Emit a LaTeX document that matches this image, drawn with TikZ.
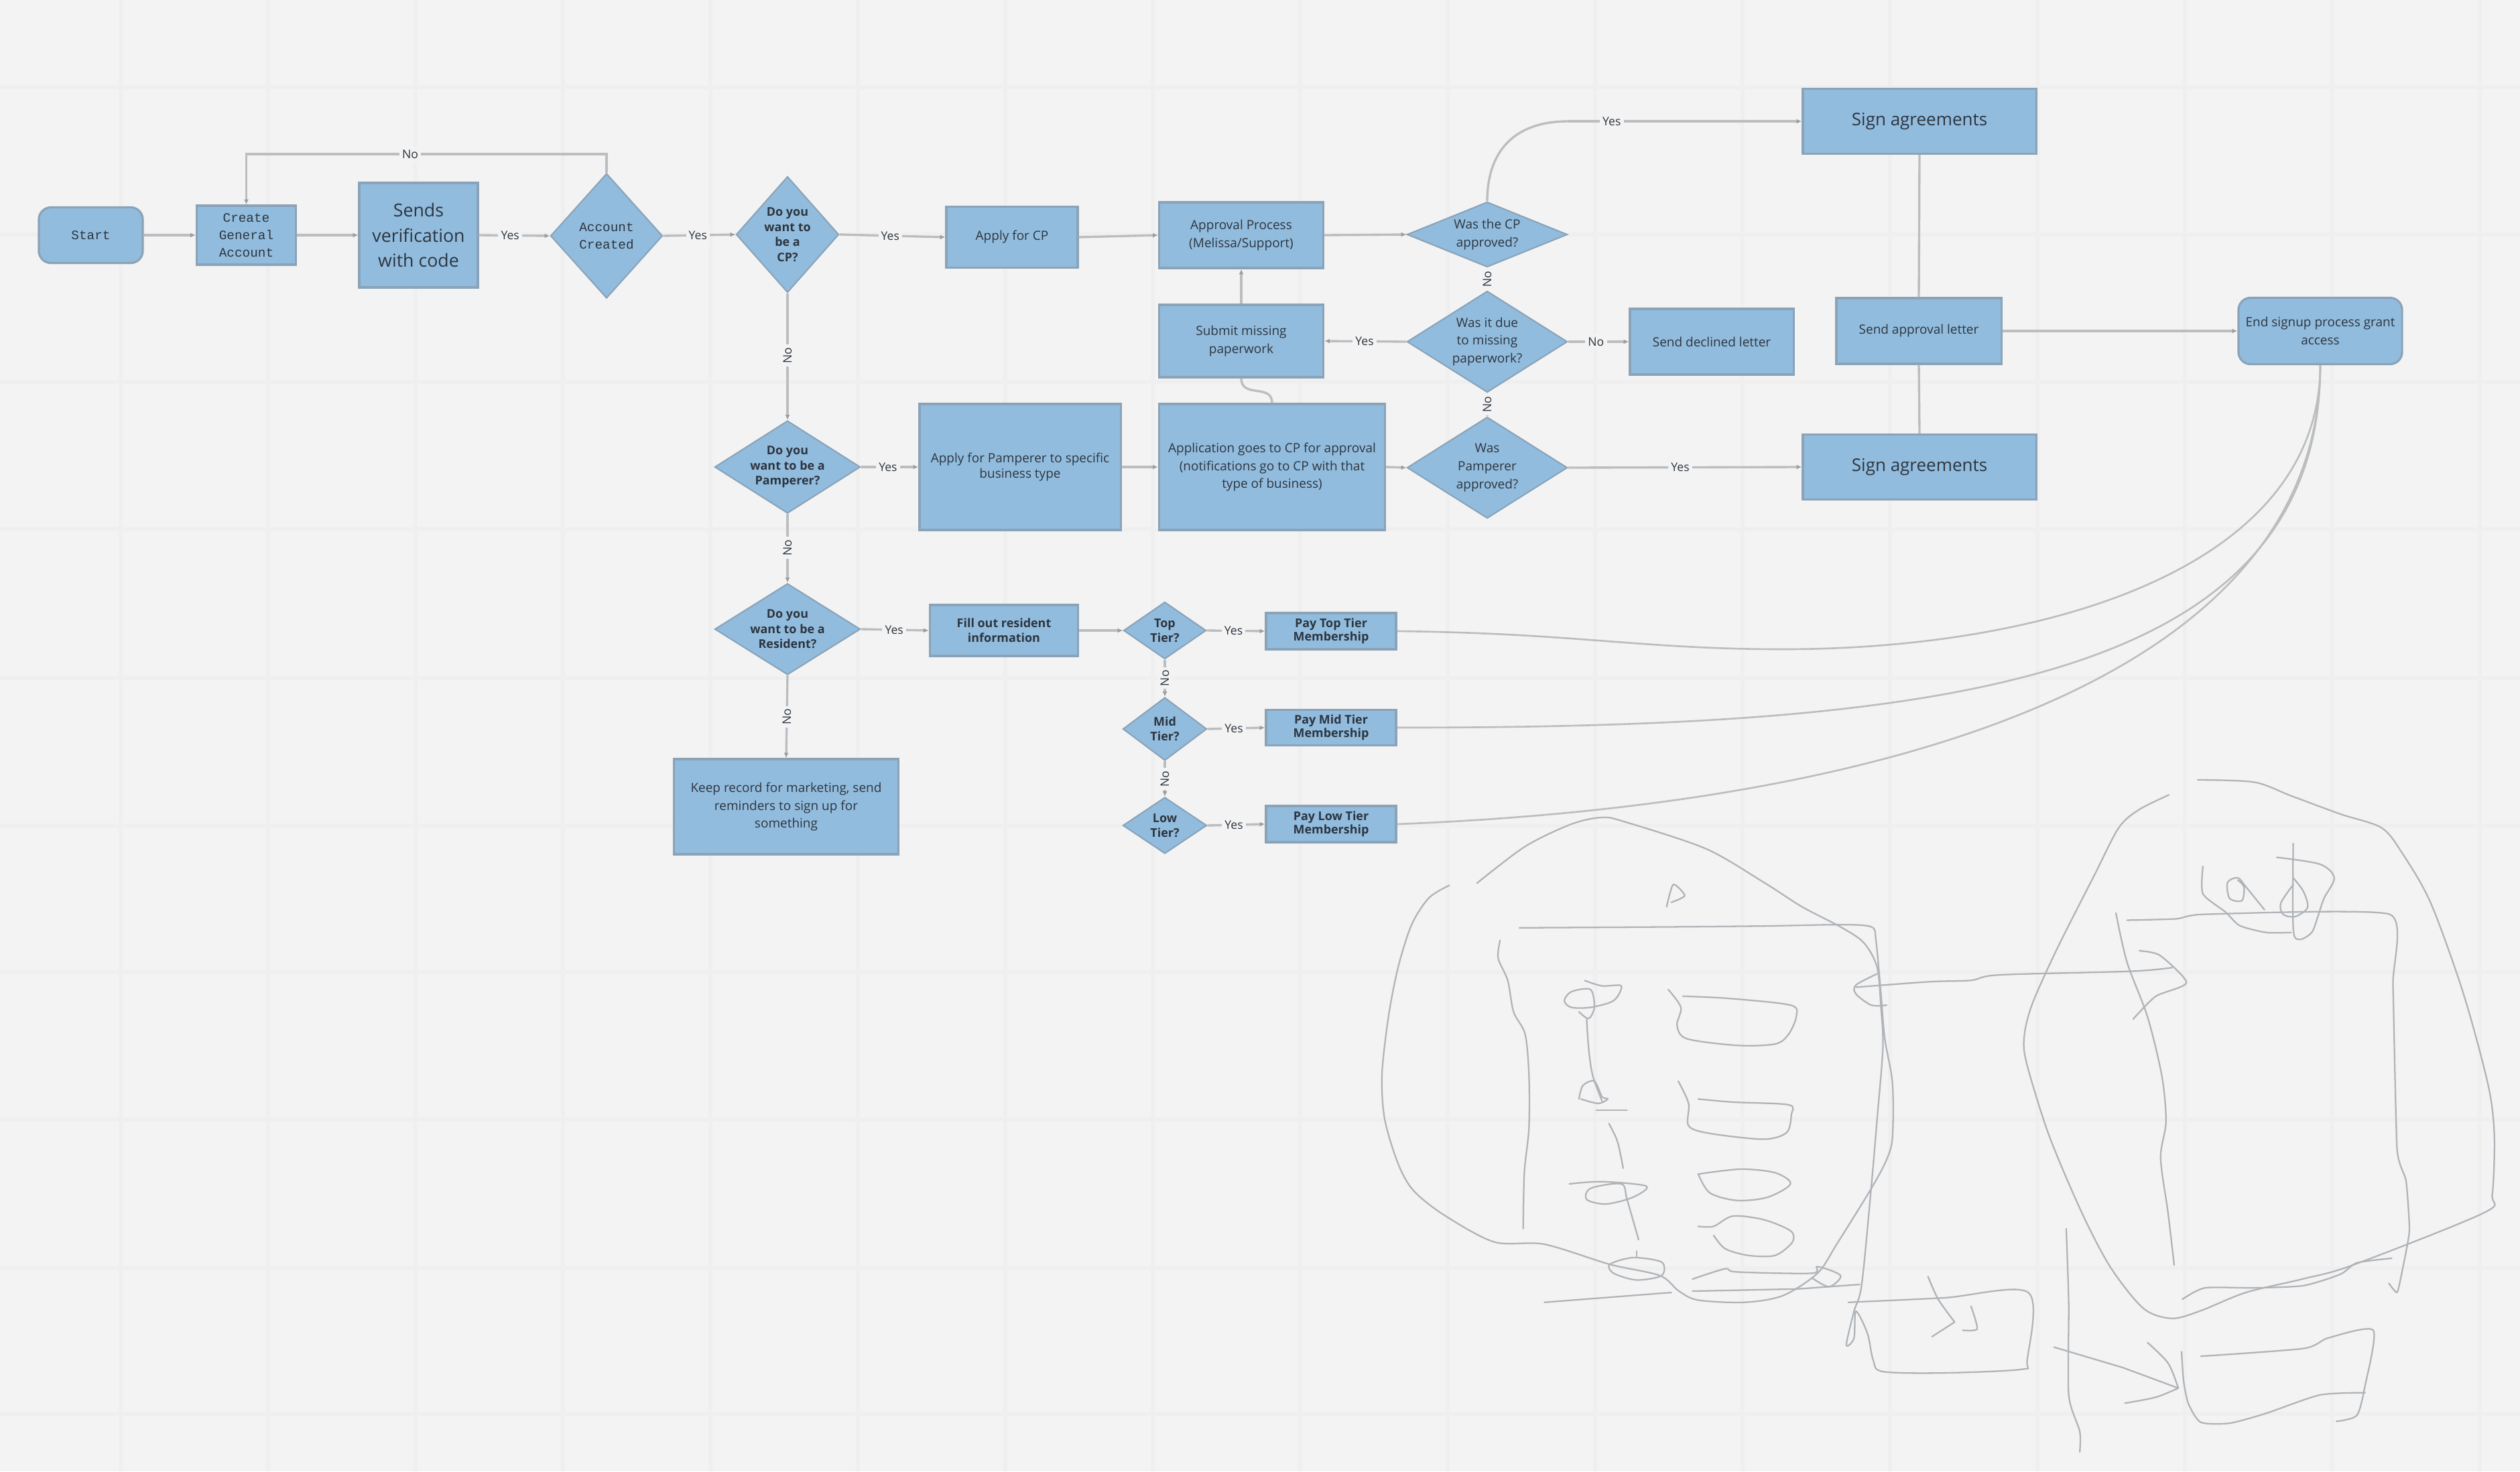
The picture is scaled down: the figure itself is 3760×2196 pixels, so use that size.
\documentclass[tikz,border=0pt]{standalone}
\usepackage{fontspec}
\setmainfont{Open Sans}
\setmonofont{Liberation Mono}
\usetikzlibrary{shapes.geometric,arrows.meta}
\definecolor{bgc}{HTML}{F3F3F3}
\definecolor{gridc}{HTML}{EFEFEF}
\definecolor{boxc}{HTML}{92BCDD}
\definecolor{boxl}{HTML}{8AA3B8}
\definecolor{edgec}{HTML}{BBBDBF}
\definecolor{tipc}{HTML}{9A9EA2}
\definecolor{txtc}{HTML}{2C3540}
\definecolor{sketchc}{HTML}{B0B4B8}
\tikzset{
  base/.style={fill=boxc,draw=boxl,line width=0.9pt,text=txtc,inner sep=0pt,align=center,font=\fontsize{5.4}{7.6}\selectfont},
  bx/.style={base,rectangle},
  rbx/.style={base,rectangle,rounded corners=0.18cm},
  dia/.style={fill=boxc,draw=boxl,line width=0.6pt,diamond,inner sep=0pt,aspect=1},
  dtxt/.style={text=txtc,align=center,inner sep=0pt,font=\fontsize{5.1}{6.4}\selectfont\bfseries},
  dtxn/.style={text=txtc,align=center,inner sep=0pt,font=\fontsize{5.4}{7.6}\selectfont},
  dmono/.style={text=txtc,align=center,inner sep=0pt,font=\fontsize{5.5}{7.4}\selectfont\ttfamily},
  mono/.style={font=\fontsize{5.5}{7.4}\selectfont\ttfamily},
  conn/.style={draw=edgec,line width=0.95pt,-{Latex[length=2.2pt,width=2pt,color=tipc]}},
  plain/.style={draw=edgec,line width=0.95pt},
  yl/.style={fill=bgc,text=txtc,inner sep=1.2pt,font=\fontsize{5}{6}\selectfont},
  nl/.style={yl,rotate=90},
  gridline/.style={draw=gridc,line width=1.8pt},
  sk/.style={draw=sketchc,line width=0.65pt,line cap=round,line join=round},
}
\begin{document}
\begin{tikzpicture}[x=0.01cm,y=-0.01cm]
\useasboundingbox (0,0) rectangle (3760,2196);
\fill[bgc] (0,0) rectangle (3760,2196);
\foreach \gx in {180,400,...,3700} \draw[gridline] (\gx,0) -- (\gx,2196);
\foreach \gy in {130,350,570,790,1012,1232,1451,1671,1893,2110} \draw[gridline] (0,\gy) -- (3760,\gy);

% nodes
\node[rbx,minimum width=1.55cm,minimum height=0.83cm,mono] (Start) at (135.5,351) {Start};
\node[bx,minimum width=1.48cm,minimum height=0.88cm,mono] (Create) at (367.5,351) {Create\\General\\Account};
\node[bx,minimum width=1.77cm,minimum height=1.56cm,font=\fontsize{7.6}{10.6}\selectfont] (Sends) at (624.5,351) {Sends\\verification\\with code};
\node[dia,minimum width=1.67cm,minimum height=1.86cm,aspect=0.9,label={[dmono]center:{Account\\Created}}] (Account) at (905,352) {};
\node[dia,minimum width=1.53cm,minimum height=1.73cm,aspect=0.88,label={[dtxt]center:{Do you\\want to\\be a\\CP?}}] (CP) at (1175,350) {};
\node[dia,minimum width=2.17cm,minimum height=1.38cm,aspect=1.57,label={[dtxt]center:{Do you\\want to be a\\Pamperer?}}] (Pamp) at (1175,697) {};
\node[dia,minimum width=2.17cm,minimum height=1.36cm,aspect=1.6,label={[dtxt]center:{Do you\\want to be a\\Resident?}}] (Res) at (1175,939) {};
\node[bx,minimum width=3.34cm,minimum height=1.42cm] (Keep) at (1173,1204) {Keep record for marketing, send\\reminders to sign up for\\something};
\node[bx,minimum width=2.21cm,minimum height=0.76cm,font=\fontsize{5.1}{6.4}\selectfont\bfseries] (Fill) at (1498,941) {Fill out resident\\information};
\node[dia,minimum width=1.23cm,minimum height=0.85cm,aspect=1.45,label={[dtxt]center:{Top\\Tier?}}] (Top) at (1738,941) {};
\node[dia,minimum width=1.25cm,minimum height=0.94cm,aspect=1.33,label={[dtxt]center:{Mid\\Tier?}}] (Mid) at (1738,1088) {};
\node[dia,minimum width=1.25cm,minimum height=0.84cm,aspect=1.49,label={[dtxt]center:{Low\\Tier?}}] (Low) at (1738,1232) {};
\node[bx,minimum width=1.94cm,minimum height=0.54cm,font=\fontsize{5.1}{5.7}\selectfont\bfseries] (PayTop) at (1986,942) {Pay Top Tier\\Membership};
\node[bx,minimum width=1.94cm,minimum height=0.53cm,font=\fontsize{5.1}{5.7}\selectfont\bfseries] (PayMid) at (1986,1086) {Pay Mid Tier\\Membership};
\node[bx,minimum width=1.94cm,minimum height=0.54cm,font=\fontsize{5.1}{5.7}\selectfont\bfseries] (PayLow) at (1986,1230) {Pay Low Tier\\Membership};
\node[bx,minimum width=1.96cm,minimum height=0.91cm] (ApplyCP) at (1510,354) {Apply for CP};
\node[bx,minimum width=2.45cm,minimum height=0.98cm] (Approval) at (1852,351) {Approval Process\\(Melissa/Support)};
\node[dia,minimum width=2.39cm,minimum height=0.97cm,aspect=2.46,label={[dtxn]center:{Was the CP\\approved?}}] (WasCP) at (2219,350) {};
\node[bx,minimum width=2.45cm,minimum height=1.08cm] (Submit) at (1852,509) {Submit missing\\paperwork};
\node[dia,minimum width=2.39cm,minimum height=1.51cm,aspect=1.58,label={[dtxn]center:{Was it due\\to missing\\paperwork?}}] (WasDue) at (2219,510) {};
\node[bx,minimum width=2.44cm,minimum height=0.98cm] (Declined) at (2554,510) {Send declined letter};
\node[bx,minimum width=3cm,minimum height=1.88cm,font=\fontsize{5.4}{6.6}\selectfont] (ApplyPamp) at (1522,697) {Apply for Pamperer to specific\\business type};
\node[bx,minimum width=3.37cm,minimum height=1.88cm] (Application) at (1898,697) {Application goes to CP for approval\\(notifications go to CP with that\\type of business)};
\node[dia,minimum width=2.39cm,minimum height=1.51cm,aspect=1.58,label={[dtxn]center:{Was\\Pamperer\\approved?}}] (WasPamp) at (2219,698) {};
\node[bx,minimum width=3.48cm,minimum height=0.97cm,font=\fontsize{7.4}{9}\selectfont] (SignTop) at (2864,181) {Sign agreements};
\node[bx,minimum width=2.46cm,minimum height=0.98cm] (SendApp) at (2863,494) {Send approval letter};
\node[rbx,minimum width=2.44cm,minimum height=0.99cm] (End) at (3462,494) {End signup process grant\\access};
\node[bx,minimum width=3.48cm,minimum height=0.97cm,font=\fontsize{7.4}{9}\selectfont] (SignBot) at (2864,697) {Sign agreements};

% helper coordinates for routed connectors
\coordinate (loopR) at (905,230);
\coordinate (loopL) at (367.5,230);
\coordinate (cpA) at (2340,181);

% connectors
\draw[conn] (Start.east) -- (Create.west);
\draw[conn] (Create.east) -- (Sends.west);
\draw[conn] (Sends.east) -- node[yl,pos=.44]{Yes} (Account.west);
\draw[conn] (Account.north) -- (loopR) -- node[yl,pos=.545]{No} (loopL) -- (Create.north);
\draw[conn] (Account.east) -- node[yl,pos=.48]{Yes} (CP.west);
\draw[conn] (CP.east) -- node[yl,pos=.48]{Yes} (ApplyCP.west);
\draw[conn] (ApplyCP.east) -- (Approval.west);
\draw[conn] (Approval.east) -- (WasCP.west);
\draw[plain] (WasCP.north) .. controls (2219,225) and (2260,181) .. (cpA);
\draw[conn] (cpA) -- node[yl,pos=.186]{Yes} (SignTop.west);
\draw[conn] (WasCP.south) -- node[nl,pos=.5]{No} (WasDue.north);
\draw[conn] (WasDue.west) -- node[yl,pos=.51]{Yes} (Submit.east);
\draw[conn] (WasDue.east) -- node[yl,pos=.46]{No} (Declined.west);
\draw[conn] (Submit.north) -- (Approval.south);
\draw[plain] (Application.north) .. controls (1898,572) and (1852,595) .. (Submit.south);
\draw[conn] (WasPamp.north) -- node[nl,pos=.5]{No} (WasDue.south);
\draw[conn] (CP.south) -- node[nl,pos=.49]{No} (Pamp.north);
\draw[conn] (Pamp.east) -- node[yl,pos=.47]{Yes} (ApplyPamp.west);
\draw[conn] (ApplyPamp.east) -- (Application.west);
\draw[conn] (Application.east) -- (WasPamp.west);
\draw[conn] (WasPamp.east) -- node[yl,pos=.48]{Yes} (SignBot.west);
\draw[plain] (SignTop.south) -- (SendApp.north);
\draw[plain] (SignBot.north) -- (SendApp.south);
\draw[conn] (SendApp.east) -- (End.west);
\draw[conn] (Pamp.south) -- node[nl,pos=.49]{No} (Res.north);
\draw[conn] (Res.south) -- node[nl,pos=.5]{No} (Keep.north);
\draw[conn] (Res.east) -- node[yl,pos=.49]{Yes} (Fill.west);
\draw[conn] (Fill.east) -- (Top.west);
\draw[conn] (Top.east) -- node[yl,pos=.46]{Yes} (PayTop.west);
\draw[conn] (Mid.east) -- node[yl,pos=.46]{Yes} (PayMid.west);
\draw[conn] (Low.east) -- node[yl,pos=.46]{Yes} (PayLow.west);
\draw[conn] (Top.south) -- node[nl,pos=.5]{No} (Mid.north);
\draw[conn] (Mid.south) -- node[nl,pos=.5]{No} (Low.north);
\draw[plain,line width=0.75pt] (PayTop.east) .. controls (2350,945) and (2450,969) .. (2660,969) .. controls (3050,969) and (3461,850) .. (End.south);
\draw[plain,line width=0.75pt] (PayMid.east) .. controls (2900,1086) and (3461,1020) .. (End.south);
\draw[plain,line width=0.75pt] (PayLow.east) .. controls (2850,1200) and (3461,1000) .. (End.south);

% left sketch (coordinates read off a crop)
\begin{scope}[shift={(2000,1150)},xscale=0.574,yscale=0.667]
\draw[sk] plot[smooth,tension=.5] coordinates {(283,257)(230,285)(185,345)(150,440)(125,550)(108,680)(115,780)(150,880)(190,940)(270,995)(400,1055)(530,1060)(700,1105)(830,1130)(880,1165)(930,1185)(1050,1190)(1150,1175)(1240,1125)(1290,1060)(1380,935)(1420,870)(1435,820)(1435,700)(1415,600)(1405,500)(1392,380)(1380,350)(1300,345)(1100,348)(850,350)(465,352)};
\draw[sk] plot[smooth,tension=.5] coordinates {(355,252)(480,170)(600,120)(680,105)(740,115)(950,175)(1100,250)(1200,305)(1300,350)(1360,385)(1395,440)(1405,530)(1410,620)(1395,780)(1380,930)(1355,1150)(1335,1210)(1315,1285)(1335,1270)(1340,1210)(1370,1260)(1385,1320)(1410,1345)(1568,1348)(1770,1340)(1785,1320)(1788,1168)(1568,1180)(1320,1190)};
\draw[sk] plot[smooth,tension=.5] coordinates {(415,380)(410,420)(435,470)(450,540)(480,590)(490,680)(490,800)(478,900)(475,1025)};
\draw[sk] plot[smooth,tension=.4] coordinates {(848,305)(865,255)(895,280)(860,295)};
\draw[sk] plot[smooth,tension=.5] coordinates {(635,470)(680,482)(730,482)(710,515)(650,530)(600,530)(582,515)(600,495)(650,490)(660,530)(645,555)(620,540)};
\draw[sk] plot[smooth,tension=.5] coordinates {(640,555)(645,620)(655,680)(680,740)};
\draw[sk] plot[smooth,tension=.5] coordinates {(620,735)(630,705)(660,695)(680,730)(695,735)(670,745)(625,735)};
\draw[sk] (665,760) -- (745,760);
\draw[sk] plot[smooth,tension=.5] coordinates {(698,790)(720,830)(735,890)};
\draw[sk] plot[smooth,tension=.5] coordinates {(595,925)(680,920)(795,930)(760,955)(690,970)(640,960)(650,935)(730,925)(745,960)(775,1050)};
\draw[sk] (770,1075) -- (770,1090);
\draw[sk] plot[smooth cycle,tension=.5] coordinates {(700,1105)(760,1090)(835,1100)(835,1130)(770,1140)(710,1125)};
\draw[sk] (530,1190) -- (860,1168);
\draw[sk] (915,1165) -- (1190,1160) -- (1350,1150);
\draw[sk] plot[smooth,tension=.5] coordinates {(915,1138)(1000,1115)(1030,1122)(1225,1125)(1240,1110)(1300,1130)(1270,1155)(1225,1135)};
\draw[sk] plot[smooth,tension=.5] coordinates {(852,490)(885,530)(875,570)(900,600)(1030,615)(1130,612)(1165,590)(1185,550)(1170,525)(1010,510)(890,505)};
\draw[sk] plot[smooth,tension=.5] coordinates {(878,695)(905,745)(905,795)(960,812)(1100,825)(1160,810)(1172,770)(1165,748)(1020,742)(930,735)};
\draw[sk] plot[smooth,tension=.5] coordinates {(930,903)(1040,892)(1130,900)(1170,925)(1110,955)(1030,962)(960,945)(930,903)};
\draw[sk] plot[smooth,tension=.5] coordinates {(930,1020)(970,1020)(1020,997)(1100,1005)(1170,1030)(1175,1055)(1130,1085)(1060,1085)(1000,1070)(970,1040)};
\draw[sk] plot[smooth,tension=.5] coordinates {(1395,455)(1340,480)(1340,500)(1380,525)(1420,525)};
\end{scope}

% right sketch
\begin{scope}[shift={(2800,1130)},xscale=0.6124,yscale=0.680]
\draw[sk] plot[smooth,tension=.5] coordinates {(-50,505)(130,493)(230,490)(300,478)(620,470)(720,462)};
\draw[sk] plot[smooth,tension=.5] coordinates {(712,83)(640,115)(590,155)(530,260)(440,420)(380,540)(360,610)(365,670)(420,830)(500,1000)(570,1120)(650,1210)(720,1232)(790,1215)(900,1175)(1040,1145)(1160,1115)(1480,1000)(1500,960)(1505,830)(1490,720)(1430,520)(1350,320)(1280,210)(1230,155)(1130,125)(1010,85)(920,55)(782,50)};
\draw[sk] plot[smooth,tension=.3] coordinates {(610,358)(730,355)(800,345)(1250,345)(1258,500)(1268,860)(1290,930)(1298,1040)(1280,1130)(1268,1175)(1248,1155)};
\draw[sk] plot[smooth,tension=.5] coordinates {(583,342)(610,450)(660,570)(695,700)(705,800)(692,880)(710,1000)(725,1115)};
\draw[sk] plot[smooth,tension=.4] coordinates {(640,425)(690,435)(755,495)(680,525)(625,575)};
\draw[sk] plot[smooth,tension=.4] coordinates {(795,240)(795,300)(850,340)(885,370)(950,385)(1010,385)};
\draw[sk] plot[smooth,tension=.5] coordinates {(945,335)(900,285)(880,265)(855,275)(860,310)(890,315)(895,285)(880,270)};
\draw[sk] plot[smooth,tension=.5] coordinates {(975,220)(1080,235)(1115,265)(1090,310)(1075,350)(1060,385)(1030,400)(1015,375)(1015,190)};
\draw[sk] plot[smooth,tension=.5] coordinates {(1015,280)(985,320)(990,345)(1020,350)(1050,330)(1040,295)(1015,265)};
\draw[sk] plot[smooth,tension=.4] coordinates {(745,1190)(800,1165)(920,1165)(1040,1160)(1130,1135)(1170,1110)(1255,1100)};
\draw[sk] plot[smooth,tension=.4] coordinates {(462,1035)(468,1200)(468,1400)(495,1480)(495,1525)};
\draw[sk] (432,1295) -- (600,1340) -- (735,1385);
\draw[sk] plot[smooth,tension=.5] coordinates {(735,1385)(680,1405)(605,1418)};
\draw[sk] plot[smooth,tension=.5] coordinates {(660,1285)(710,1330)(735,1385)};
\draw[sk] plot[smooth,tension=.4] coordinates {(743,1305)(748,1370)(760,1420)(790,1460)(860,1462)(950,1440)(1080,1400)(1190,1395)};
\draw[sk] plot[smooth,tension=.4] coordinates {(790,1315)(1040,1298)(1100,1275)(1210,1258)(1190,1380)(1170,1445)(1120,1458)};
\draw[sk] plot[smooth,tension=.4] coordinates {(125,1140)(150,1190)(190,1240)};
\draw[sk] plot[smooth,tension=.4] coordinates {(230,1205)(245,1255)(210,1258)};
\draw[sk] plot[smooth,tension=.4] coordinates {(190,1240)(135,1272)};
\end{scope}
\end{tikzpicture}
\end{document}
